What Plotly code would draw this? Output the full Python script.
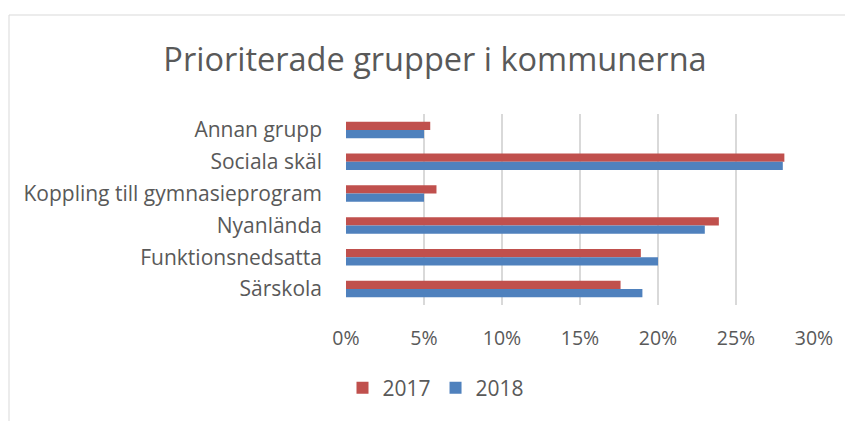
import plotly.graph_objects as go

categories = ["Annan grupp", "Sociala skäl", "Koppling till gymnasieprogram",
              "Nyanlända", "Funktionsnedsatta", "Särskola"]
v2017 = [0.054, 0.281, 0.058, 0.239, 0.189, 0.176]
v2018 = [0.050, 0.280, 0.050, 0.230, 0.200, 0.190]
tick_vals = [0, 0.05, 0.10, 0.15, 0.20, 0.25, 0.30]
tick_text = ["0%", "5%", "10%", "15%", "20%", "25%", "30%"]

W, H = 853, 421
OFF = 8  # page body margin compensation
L, R, T, B = 346 - OFF, 814 - OFF, 114 - OFF, 305 - OFF

def px(x):
    return (x - OFF - L) / (R - L)

def py(y):
    return (B - (y - OFF)) / (B - T)

FONT = "Open Sans, Carlito, Calibri, sans-serif"
GRAY = "#595959"

fig = go.Figure()
fig.add_trace(go.Bar(y=categories, x=v2017, name="2017", orientation="h",
                     marker=dict(color="#C0504D", line=dict(width=0))))
fig.add_trace(go.Bar(y=categories, x=v2018, name="2018", orientation="h",
                     marker=dict(color="#4F81BD", line=dict(width=0))))

fig.update_layout(
    width=W, height=H,
    margin=dict(l=L, r=W - R, t=T, b=H - B, pad=0, autoexpand=False),
    paper_bgcolor="white", plot_bgcolor="white",
    barmode="group", bargap=0.48, bargroupgap=0,
    font=dict(family=FONT, color=GRAY, size=20),
    title=dict(text="Prioriterade grupper i kommunerna", x=(435 - OFF) / W, xanchor="center",
               y=1 - (60 - OFF) / H, yanchor="middle",
               font=dict(family=FONT, size=32.5, color=GRAY)),
    xaxis=dict(range=[0, 0.30], tickvals=tick_vals, ticktext=tick_text,
               showgrid=True, gridcolor="#D9D9D9", gridwidth=1.5,
               zeroline=False, showline=False, ticks="",
               ticklabelstandoff=19, tickfont=dict(size=19.5, color=GRAY)),
    yaxis=dict(autorange="reversed", showgrid=False, zeroline=False,
               showline=False, ticks="", ticklabelstandoff=23,
               tickfont=dict(size=21, color=GRAY)),
    legend=dict(orientation="h", x=px(436), xanchor="center", y=py(388), yanchor="middle",
                font=dict(size=21, color=GRAY), traceorder="normal",
                itemwidth=30, bgcolor="rgba(0,0,0,0)"),
    showlegend=True,
)

fig.add_shape(type="rect", xref="paper", yref="paper",
              x0=px(9), x1=px(880), y0=py(450), y1=py(15),
              line=dict(color="#D9D9D9", width=1), fillcolor="rgba(0,0,0,0)",
              layer="below")

fig.write_html("out.html")
